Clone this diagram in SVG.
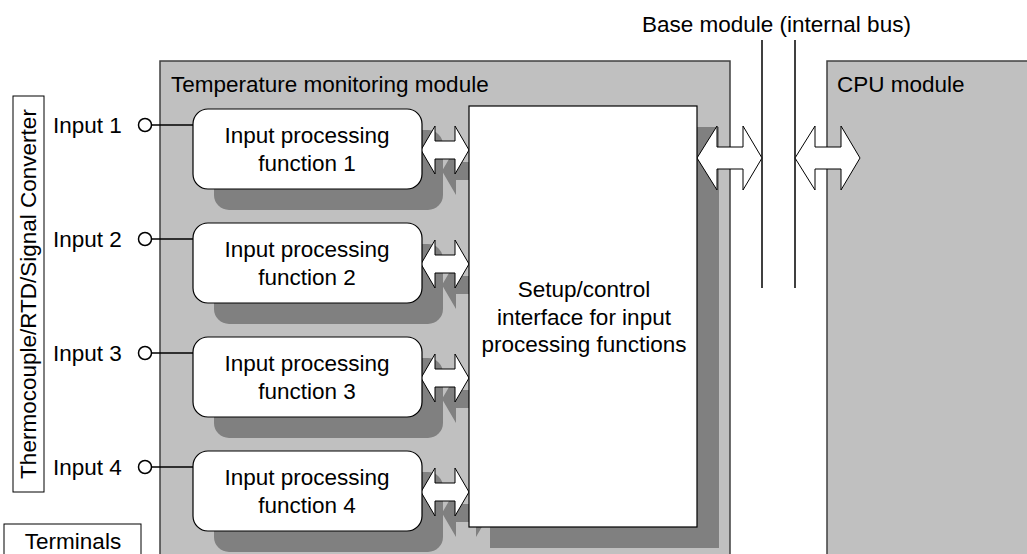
<svg xmlns="http://www.w3.org/2000/svg" width="1027" height="554" viewBox="0 0 1027 554">
<style>
  text { font-family: "Liberation Sans", Arial, sans-serif; font-size: 22.5px; fill: #000; }
  .mod { fill: #c0c0c0; stroke: #404040; stroke-width: 1.5; }
  .box { fill: #fff; stroke: #000; stroke-width: 1.2; }
  .shd { fill: #808080; stroke: none; }
  .wire { stroke: #000; stroke-width: 1.5; fill: none; }
  .term { fill: #fff; stroke: #000; stroke-width: 1.5; }
  .arr { fill: #fff; stroke: #000; stroke-width: 1; }
  .lbl { fill: #fff; stroke: #000; stroke-width: 1; }
  .mid { text-anchor: middle; }
</style>
<defs>
  <!-- double-headed block arrow, local coords: tip to tip, centre line y=0 -->
  <polygon id="dbl" points="0,0 14,-24 14,-9 34,-9 34,-24 48,0 34,24 34,9 14,9 14,24"/>
  <polygon id="bus" points="0,0 20,-32 20,-11 46,-11 46,-32 65,0 46,32 46,11 20,11 20,32"/>
</defs>

<!-- module housings -->
<g id="temp-module">
  <rect class="mod" x="160" y="61" width="570" height="510"/>
  <text x="171" y="92">Temperature monitoring module</text>
</g>
<g id="cpu-module">
  <rect class="mod" x="827" y="61" width="220" height="510"/>
  <text x="837" y="92">CPU module</text>
</g>

<!-- base module bus -->
<g id="base-bus">
  <line class="wire" x1="762" y1="40" x2="762" y2="288"/>
  <line class="wire" x1="795" y1="40" x2="795" y2="288"/>
  <text x="642" y="32">Base module (internal bus)</text>
</g>

<!-- drop shadows -->
<g id="shadows">
  <rect class="shd" x="214" y="130" width="229" height="80" rx="15"/>
  <rect class="shd" x="214" y="244" width="229" height="80" rx="15"/>
  <rect class="shd" x="214" y="358" width="229" height="80" rx="15"/>
  <rect class="shd" x="214" y="472" width="229" height="80" rx="15"/>
  <use href="#dbl" class="shd" x="442" y="171"/>
  <use href="#dbl" class="shd" x="442" y="285"/>
  <use href="#dbl" class="shd" x="442" y="399"/>
  <use href="#dbl" class="shd" x="442" y="513"/>
  <rect class="shd" x="490" y="127" width="229" height="421"/>
</g>

<!-- connectors -->
<g id="connectors">
  <line class="wire" x1="152" y1="125" x2="193" y2="125"/>
  <line class="wire" x1="152" y1="239" x2="193" y2="239"/>
  <line class="wire" x1="152" y1="353" x2="193" y2="353"/>
  <line class="wire" x1="152" y1="467" x2="193" y2="467"/>
  <use href="#dbl" class="arr" x="421" y="150"/>
  <use href="#dbl" class="arr" x="421" y="264"/>
  <use href="#dbl" class="arr" x="421" y="378"/>
  <use href="#dbl" class="arr" x="421" y="492"/>
  <use href="#bus" class="arr" x="697" y="158"/>
  <use href="#bus" class="arr" x="795" y="158"/>
</g>

<!-- input terminals -->
<g id="input-1">
  <circle class="term" cx="145" cy="125" r="6.5"/>
  <text x="53" y="133">Input 1</text>
</g>
<g id="input-2">
  <circle class="term" cx="145" cy="239" r="6.5"/>
  <text x="53" y="247">Input 2</text>
</g>
<g id="input-3">
  <circle class="term" cx="145" cy="353" r="6.5"/>
  <text x="53" y="361">Input 3</text>
</g>
<g id="input-4">
  <circle class="term" cx="145" cy="467" r="6.5"/>
  <text x="53" y="475">Input 4</text>
</g>

<!-- input processing functions -->
<g id="ipf-1">
  <rect class="box" x="193" y="109" width="229" height="80" rx="15"/>
  <text class="mid" x="307" y="143">Input processing</text>
  <text class="mid" x="307" y="171">function 1</text>
</g>
<g id="ipf-2">
  <rect class="box" x="193" y="223" width="229" height="80" rx="15"/>
  <text class="mid" x="307" y="257">Input processing</text>
  <text class="mid" x="307" y="285">function 2</text>
</g>
<g id="ipf-3">
  <rect class="box" x="193" y="337" width="229" height="80" rx="15"/>
  <text class="mid" x="307" y="371">Input processing</text>
  <text class="mid" x="307" y="399">function 3</text>
</g>
<g id="ipf-4">
  <rect class="box" x="193" y="451" width="229" height="80" rx="15"/>
  <text class="mid" x="307" y="485">Input processing</text>
  <text class="mid" x="307" y="513">function 4</text>
</g>

<!-- setup / control interface -->
<g id="setup-if">
  <rect class="box" x="469" y="106" width="228" height="421"/>
  <text class="mid" x="584" y="297">Setup/control</text>
  <text class="mid" x="584" y="324.5">interface for input</text>
  <text class="mid" x="584" y="352">processing functions</text>
</g>

<!-- side labels -->
<g id="sensor-label">
  <rect class="lbl" x="13" y="96" width="31" height="396"/>
  <text class="mid" transform="translate(36 294) rotate(-90)">Thermocouple/RTD/Signal Converter</text>
</g>
<g id="terminals-label">
  <rect class="lbl" x="4" y="524" width="137" height="40"/>
  <text class="mid" x="73" y="549">Terminals</text>
</g>
</svg>
